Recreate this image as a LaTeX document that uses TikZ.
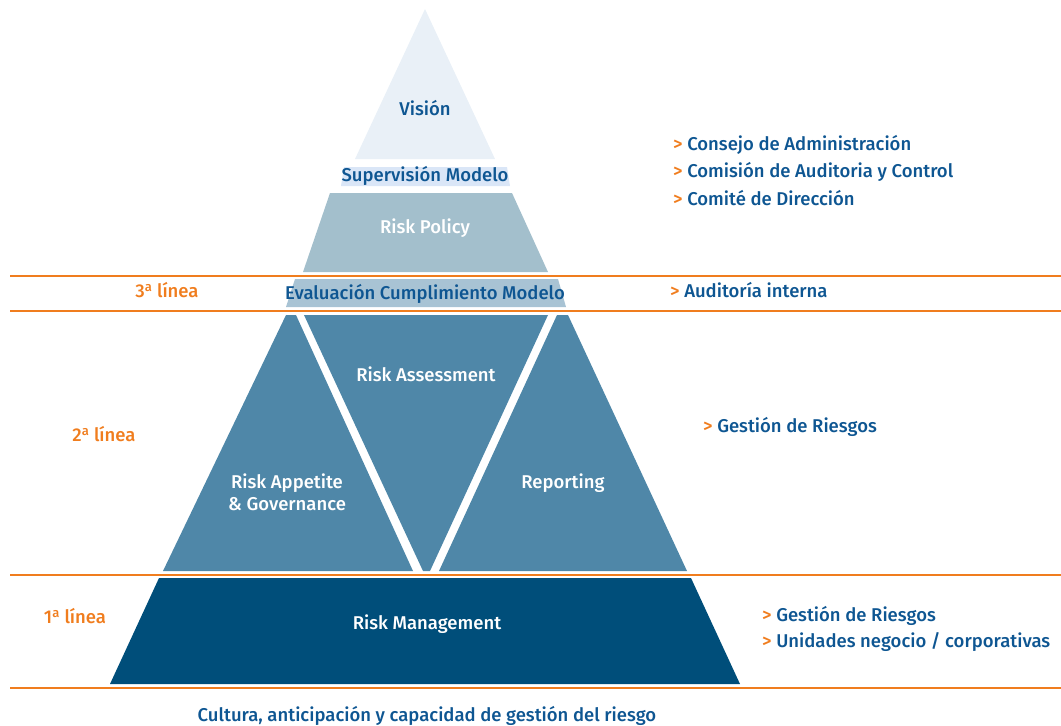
\documentclass[tikz,border=0pt]{standalone}
\usepackage{fontspec}
\setmainfont{Fira Sans Medium}
\usetikzlibrary{positioning}

\definecolor{textblue}{RGB}{14,86,146}
\definecolor{lineorange}{RGB}{240,125,30}
\definecolor{visionfill}{RGB}{233,240,247}
\definecolor{supervisionfill}{RGB}{218,230,247}
\definecolor{policyfill}{RGB}{163,191,204}
\definecolor{evaluationfill}{RGB}{168,195,212}
\definecolor{middlefill}{RGB}{79,135,168}
\definecolor{managementfill}{RGB}{0,78,122}

\newcommand{\orangegt}{\textcolor{lineorange}{>}\ }

\begin{document}
\begin{tikzpicture}
    [
      x=1pt,y=-1pt,
      txt/.style={font=\fontsize{18.5}{22}\selectfont,align=center,inner sep=0pt},
      inside/.style={txt,text=white},
      outside/.style={txt,text=textblue},
      level/.style={txt,text=lineorange},
      bullet/.style={txt,text=textblue,anchor=west},
      divider/.style={draw=lineorange,line width=1.5pt}
    ]

    \useasboundingbox (0,0) rectangle (1061,726);

    \fill [visionfill] (425,9) -- (495,159) -- (355,159) -- cycle;
    \fill [supervisionfill] (344,167) -- (507,167) -- (510,186) -- (341,186) -- cycle;
    \fill [policyfill] (330,193) -- (512,193) -- (548,272) -- (303,272) -- cycle;
    \fill [evaluationfill] (295,279) -- (558,279) -- (566,307) -- (286,307) -- cycle;
    \fill [middlefill] (286,315) -- (296,315) -- (413,571) -- (163,571) -- cycle;
    \fill [middlefill] (304,315) -- (548,315) -- (430,571) -- (423,571) -- cycle;
    \fill [middlefill] (557,315) -- (568,315) -- (687,571) -- (439,571) -- cycle;
    \fill [managementfill] (159,578) -- (691,578) -- (740,684) -- (110,684) -- cycle;

    \draw [divider] (10,276) -- (1061,276);
    \draw [divider] (10,311) -- (1061,311);
    \draw [divider] (10,575) -- (1061,575);
    \draw [divider] (10,688) -- (1061,688);

    \node at (425,108) [outside] (vision) {Visión};
    \node at (425,176) [outside] (supervision) {Supervisión Modelo};
    \node at (425,228) [inside] (policy) {Risk Policy};
    \node at (425,294) [outside] (evaluation) {Evaluación Cumplimiento Modelo};
    \node at (426,374) [inside] (assessment) {Risk Assessment};
    \node at (287,492) [inside] (appetite) {Risk Appetite\\\& Governance};
    \node at (563,483) [inside] (reporting) {Reporting};
    \node at (427,624) [inside] (management) {Risk Management};
    \node at (427,716) [outside] (culture) {Cultura, anticipación y capacidad de gestión del riesgo};

    \node at (167,290) [level] (line3) {3\textsuperscript{a} línea};
    \node at (104,434) [level] (line2) {2\textsuperscript{a} línea};
    \node at (75,616) [level] (line1) {1\textsuperscript{a} línea};

    \node at (673,145) [bullet] (board) {\orangegt Consejo de Administración};
    \node at (673,172) [bullet] (audit) {\orangegt Comisión de Auditoria y Control};
    \node at (673,198) [bullet] (direction) {\orangegt Comité de Dirección};
    \node at (670,290) [bullet] (internal) {\orangegt Auditoría interna};
    \node at (703,427) [bullet] (risks2) {\orangegt Gestión de Riesgos};
    \node at (762,616) [bullet] (risks1) {\orangegt Gestión de Riesgos};
    \node at (762,642) [bullet] (units) {\orangegt Unidades negocio / corporativas};
  \end{tikzpicture}
\end{document}
